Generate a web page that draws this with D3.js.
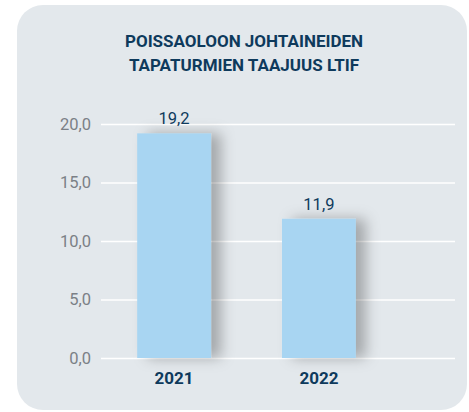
<!DOCTYPE html>
<html>
<head>
<meta charset="utf-8">
<script src="https://cdn.jsdelivr.net/npm/d3@7"></script>
<style>
  html, body { margin: 0; padding: 0; background: #ffffff; }
  svg { display: block; }
</style>
</head>
<body>
<svg id="chart" width="469" height="412"></svg>
<script>
// chart data
const titleLines = ["POISSAOLOON JOHTAINEIDEN", "TAPATURMIEN TAAJUUS LTIF"];
const years = ["2021", "2022"];
const ltifValues = [19.2, 11.9];
const yTicks = [0, 5, 10, 15, 20];

const svg = d3.select("#chart");
const navy = "#0e3a5c";
const fmt = v => d3.format(".1f")(v).replace(".", ",");

// background panel
svg.append("rect")
   .attr("x", 17).attr("y", 5)
   .attr("width", 450).attr("height", 405)
   .attr("rx", 26)
   .attr("fill", "#e3e8ec");

// soft shadow to the right of each bar
const defs = svg.append("defs");
const shadow = defs.append("filter")
   .attr("id", "barShadow")
   .attr("x", "-30%").attr("y", "-30%")
   .attr("width", "190%").attr("height", "160%");
shadow.append("feDropShadow")
   .attr("dx", 10).attr("dy", 0)
   .attr("stdDeviation", 7)
   .attr("flood-color", "#000")
   .attr("flood-opacity", 0.28);

// scales
const y = d3.scaleLinear().domain([0, 20]).range([358, 124]);
const x = d3.scaleBand()
   .domain(years)
   .range([101, 392])
   .paddingInner(0.49)
   .paddingOuter(0.25);

// title
svg.append("g")
   .selectAll("text")
   .data(titleLines)
   .join("text")
   .attr("x", 244)
   .attr("y", (d, i) => 47 + i * 24)
   .attr("text-anchor", "middle")
   .attr("font-family", "Roboto, sans-serif")
   .attr("font-weight", 700)
   .attr("font-size", 17)
   .attr("fill", navy)
   .text(d => d);

// gridlines + y labels
const yAxis = d3.axisLeft(y)
   .tickValues(yTicks)
   .tickSize(-354)
   .tickPadding(10)
   .tickFormat(fmt);

const gy = svg.append("g")
   .attr("transform", "translate(101,0)")
   .call(yAxis);
gy.select(".domain").remove();
gy.selectAll(".tick line")
   .attr("stroke", "#ffffff")
   .attr("stroke-width", 1.6);
gy.selectAll(".tick text")
   .attr("font-family", "Roboto, sans-serif")
   .attr("font-size", 16.5)
   .attr("fill", "#7b8086");

// bars
svg.append("g")
   .selectAll("rect")
   .data(ltifValues)
   .join("rect")
   .attr("x", (d, i) => x(years[i]))
   .attr("y", d => y(d))
   .attr("width", x.bandwidth())
   .attr("height", d => y(0) - y(d))
   .attr("fill", "#a8d5f2")
   .attr("filter", "url(#barShadow)");

// value labels
svg.append("g")
   .selectAll("text")
   .data(ltifValues)
   .join("text")
   .attr("x", (d, i) => x(years[i]) + x.bandwidth() / 2)
   .attr("y", d => y(d) - 9)
   .attr("text-anchor", "middle")
   .attr("font-family", "Roboto, sans-serif")
   .attr("font-size", 16.5)
   .attr("fill", navy)
   .text(d => fmt(d));

// year labels
svg.append("g")
   .selectAll("text")
   .data(years)
   .join("text")
   .attr("x", d => x(d) + x.bandwidth() / 2)
   .attr("y", 384)
   .attr("text-anchor", "middle")
   .attr("font-family", "Roboto, sans-serif")
   .attr("font-weight", 700)
   .attr("font-size", 17)
   .attr("fill", navy)
   .text(d => d);
</script>
</body>
</html>
